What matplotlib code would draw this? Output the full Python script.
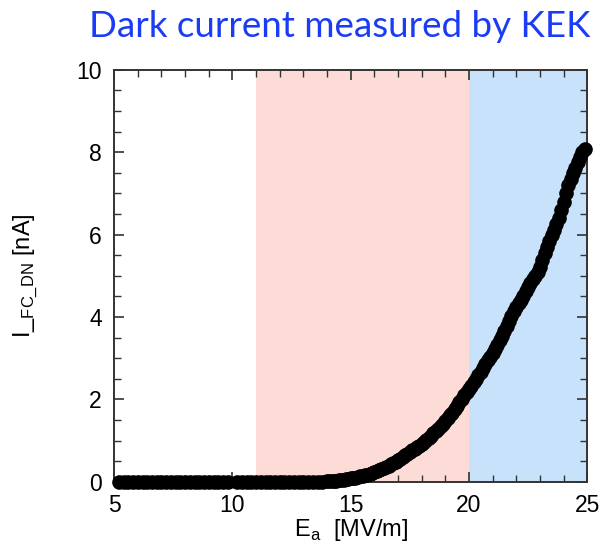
import matplotlib.pyplot as plt
from matplotlib.ticker import MultipleLocator

# flat part (below threshold), two runs with a small gap near 10 MV/m
x_flat = [5.2, 5.4, 5.6, 5.8, 6.0, 6.2, 6.4, 6.6, 6.8, 7.0, 7.2, 7.4, 7.6, 7.8,
          8.0, 8.2, 8.4, 8.6, 8.8, 9.0, 9.2, 9.4, 9.6, 9.8,
          10.2, 10.4, 10.6, 10.8, 11.0, 11.2, 11.4, 11.6, 11.8, 12.0, 12.2,
          12.4, 12.6, 12.8, 13.0, 13.2, 13.4, 13.6, 13.8]
y_flat = [0.0] * len(x_flat)

# rising part
x_rise = [14.0, 14.1, 14.2, 14.3, 14.4, 14.5, 14.6, 14.7, 14.8, 14.9,
          15.0, 15.1, 15.2, 15.3, 15.4, 15.5, 15.6, 15.7, 15.8, 15.9,
          16.0, 16.1, 16.2, 16.3, 16.4, 16.5, 16.6, 16.7, 16.8, 16.9,
          17.0, 17.1, 17.2, 17.3, 17.4, 17.5, 17.6, 17.7, 17.8, 17.9,
          18.0, 18.1, 18.2, 18.3, 18.4, 18.5, 18.6, 18.7, 18.8, 18.9,
          19.0, 19.1, 19.2, 19.3, 19.4, 19.5, 19.6, 19.7, 19.8, 19.9,
          20.0, 20.1, 20.2, 20.3, 20.4, 20.5, 20.6, 20.7, 20.8, 20.9,
          21.0, 21.1, 21.2, 21.3, 21.4, 21.5, 21.6, 21.7, 21.8, 21.9,
          22.0, 22.1, 22.2, 22.3, 22.4, 22.5, 22.6, 22.7, 22.8, 22.9,
          23.0, 23.1, 23.2, 23.3, 23.4, 23.5, 23.6, 23.7, 23.8, 23.9,
          24.0, 24.1, 24.2, 24.3, 24.4, 24.5, 24.6, 24.7, 24.8, 24.9]
y_rise = [0.01, 0.02, 0.02, 0.03, 0.03, 0.04, 0.04, 0.05, 0.06, 0.07,
          0.08, 0.09, 0.10, 0.11, 0.13, 0.14, 0.16, 0.17, 0.19, 0.21,
          0.23, 0.25, 0.28, 0.30, 0.33, 0.36, 0.39, 0.42, 0.45, 0.48,
          0.52, 0.56, 0.60, 0.64, 0.68, 0.72, 0.76, 0.80, 0.84, 0.88,
          0.92, 0.97, 1.02, 1.07, 1.12, 1.18, 1.23, 1.29, 1.35, 1.41,
          1.47, 1.54, 1.61, 1.68, 1.76, 1.84, 1.93, 2.01, 2.10, 2.17,
          2.24, 2.33, 2.42, 2.50, 2.58, 2.67, 2.76, 2.85, 2.95, 3.03,
          3.12, 3.22, 3.32, 3.44, 3.55, 3.66, 3.78, 3.90, 4.02, 4.14,
          4.25, 4.33, 4.42, 4.52, 4.62, 4.72, 4.82, 4.91, 5.00, 5.10,
          5.22, 5.38, 5.55, 5.70, 5.85, 5.98, 6.12, 6.26, 6.40, 6.60,
          6.80, 7.00, 7.20, 7.35, 7.50, 7.62, 7.75, 7.88, 8.00, 8.08]

plt.rcParams["font.family"] = ["Liberation Sans", "DejaVu Sans"]

fig = plt.figure(figsize=(6.01, 5.45), dpi=100)
ax = fig.add_axes([0.19, 0.116, 0.787, 0.756])

ax.axvspan(11, 20, color="#fddcd8", lw=0, zorder=0)
ax.axvspan(20, 25, color="#c8e2fc", lw=0, zorder=0)

ax.plot(x_flat + x_rise, y_flat + y_rise, "o", color="black", ms=9.5,
        clip_on=False, zorder=3)

ax.set_xlim(5, 25)
ax.set_ylim(0, 10)
ax.xaxis.set_major_locator(MultipleLocator(5))
ax.xaxis.set_minor_locator(MultipleLocator(1))
ax.yaxis.set_major_locator(MultipleLocator(2))
ax.yaxis.set_minor_locator(MultipleLocator(0.5))
ax.tick_params(which="both", direction="in", top=True, right=True,
               color="#333333", labelsize=16.5)
ax.tick_params(which="major", length=7, width=1.2, pad=9)
ax.tick_params(which="minor", length=5, width=1.0)
for s in ax.spines.values():
    s.set_color("#333333")
    s.set_linewidth(1.4)

ax.set_xlabel(r"E$_{\mathregular{a}}$  [MV/m]", fontsize=17)
ax.xaxis.set_label_coords(0.5, -0.085)
ax.set_ylabel(r"I_$_{\mathregular{FC\_DN}}$ [nA]", fontsize=17)
ax.yaxis.set_label_coords(-0.16, 0.5)

fig.text(0.982, 0.932, "Dark current measured by KEK", color="#1a3cf5",
         fontsize=26.5, ha="right", va="baseline",
         family=["Lato", "DejaVu Sans"])

fig.savefig("out.png", dpi=100)
